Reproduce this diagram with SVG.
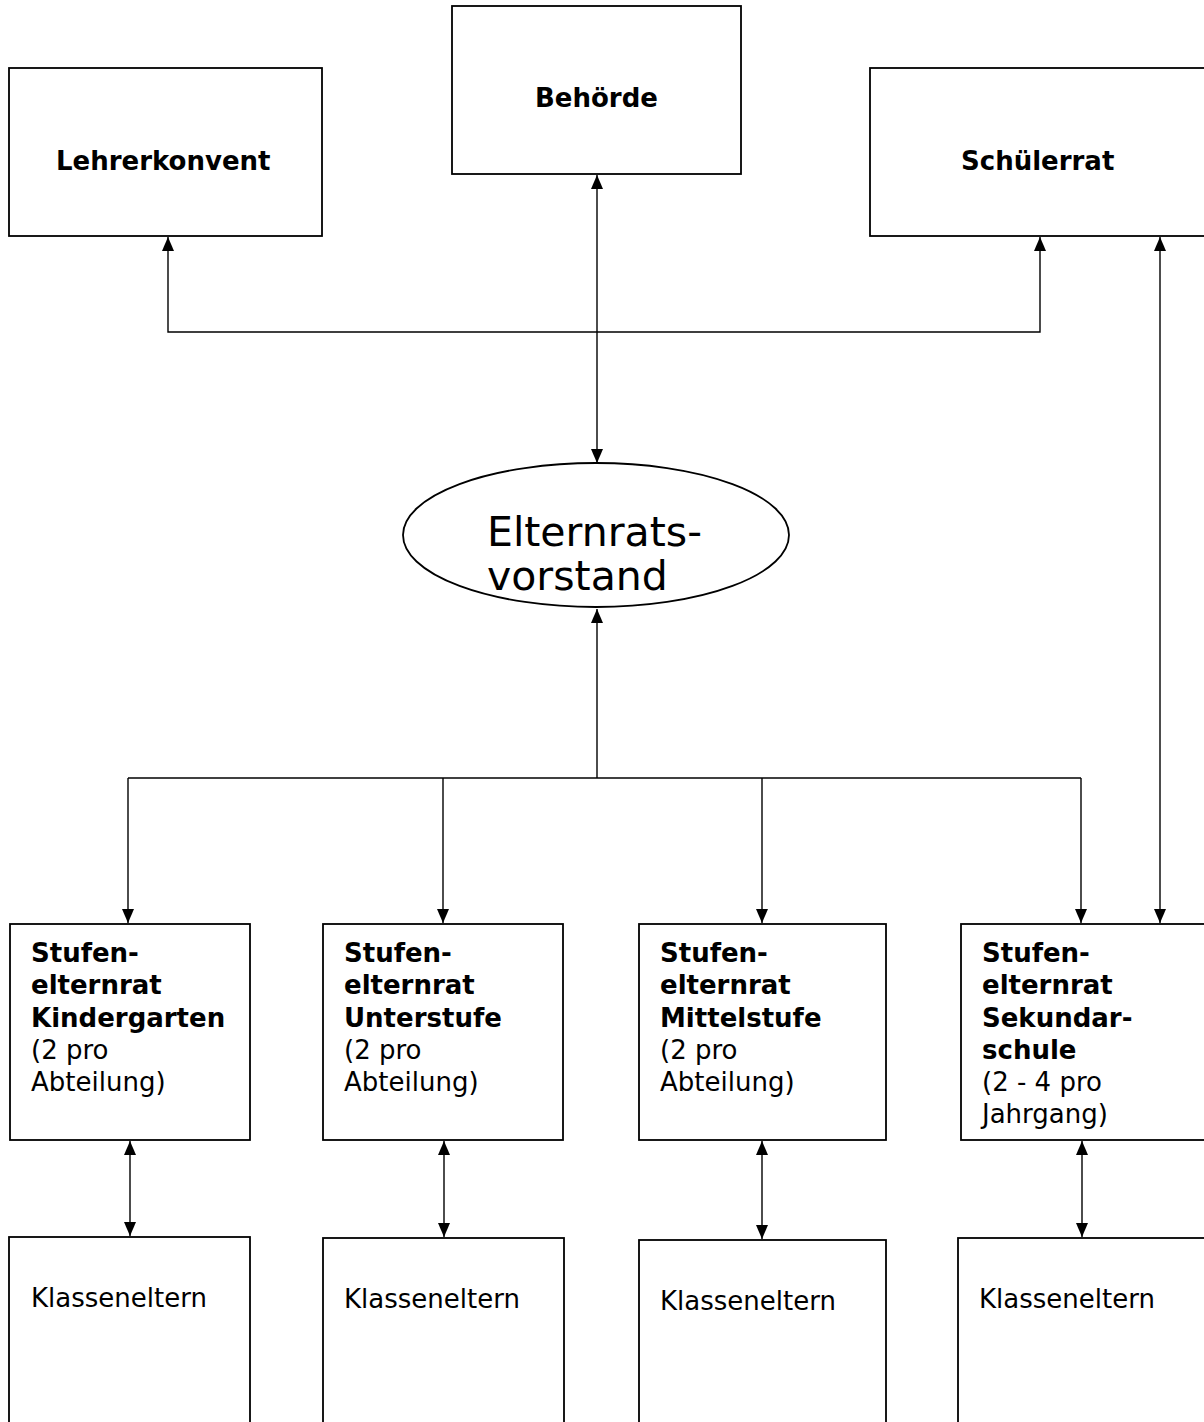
<svg xmlns="http://www.w3.org/2000/svg" width="1204" height="1422" viewBox="0 0 1204 1422">
<style>
.box{fill:#fff;stroke:#000;stroke-width:1.8}
.ln{fill:none;stroke:#000;stroke-width:1.4}
.b{font-family:"DejaVu Sans",Verdana,sans-serif;font-weight:bold;font-size:26px;fill:#000}
.r{font-family:"DejaVu Sans",Verdana,sans-serif;font-size:26px;fill:#000}
.big{font-family:"DejaVu Sans",Verdana,sans-serif;font-size:41px;fill:#000}
</style>
<defs>
<marker id="ah" markerUnits="userSpaceOnUse" markerWidth="16" markerHeight="12" refX="14" refY="6" orient="auto-start-reverse" viewBox="0 0 16 12">
<path d="M0,0 L14,6 L0,12 Z" fill="#000"/>
</marker>
</defs>
<rect width="1204" height="1422" fill="#fff"/>

<g id="lehrerkonvent"><rect class="box" x="9" y="68" width="313" height="168"/><text class="b" x="56" y="170">Lehrerkonvent</text></g>
<g id="behoerde"><rect class="box" x="452" y="6" width="289" height="168"/><text class="b" x="535" y="107">Behörde</text></g>
<g id="schuelerrat"><rect class="box" x="870" y="68" width="340" height="168"/><text class="b" x="961" y="170">Schülerrat</text></g>

<g id="elternratsvorstand"><ellipse class="box" cx="596" cy="535" rx="193" ry="72"/><text class="big" x="487" y="546">Elternrats-</text><text class="big" x="487" y="590">vorstand</text></g>

<g id="ser-kindergarten"><rect class="box" x="10" y="924" width="240" height="216"/>
<text class="b" x="31" y="962">Stufen-</text><text class="b" x="31" y="994">elternrat</text><text class="b" x="31" y="1027">Kindergarten</text>
<text class="r" x="31" y="1059">(2 pro</text><text class="r" x="31" y="1091">Abteilung)</text></g>
<g id="ser-unterstufe"><rect class="box" x="323" y="924" width="240" height="216"/>
<text class="b" x="344" y="962">Stufen-</text><text class="b" x="344" y="994">elternrat</text><text class="b" x="344" y="1027">Unterstufe</text>
<text class="r" x="344" y="1059">(2 pro</text><text class="r" x="344" y="1091">Abteilung)</text></g>
<g id="ser-mittelstufe"><rect class="box" x="639" y="924" width="247" height="216"/>
<text class="b" x="660" y="962">Stufen-</text><text class="b" x="660" y="994">elternrat</text><text class="b" x="660" y="1027">Mittelstufe</text>
<text class="r" x="660" y="1059">(2 pro</text><text class="r" x="660" y="1091">Abteilung)</text></g>
<g id="ser-sekundarschule"><rect class="box" x="961" y="924" width="250" height="216"/>
<text class="b" x="982" y="962">Stufen-</text><text class="b" x="982" y="994">elternrat</text><text class="b" x="982" y="1027">Sekundar-</text><text class="b" x="982" y="1059">schule</text>
<text class="r" x="982" y="1091">(2 - 4 pro</text><text class="r" x="982" y="1123">Jahrgang)</text></g>

<g id="klasseneltern-1"><rect class="box" x="9" y="1237" width="241" height="200"/><text class="r" x="31" y="1307">Klasseneltern</text></g>
<g id="klasseneltern-2"><rect class="box" x="323" y="1238" width="241" height="200"/><text class="r" x="344" y="1308">Klasseneltern</text></g>
<g id="klasseneltern-3"><rect class="box" x="639" y="1240" width="247" height="200"/><text class="r" x="660" y="1310">Klasseneltern</text></g>
<g id="klasseneltern-4"><rect class="box" x="958" y="1238" width="252" height="200"/><text class="r" x="979" y="1308">Klasseneltern</text></g>

<g id="connectors">
<path class="ln" d="M597,175 V463" marker-start="url(#ah)" marker-end="url(#ah)"/>
<path class="ln" d="M168,237 V332 H1040 V237" marker-start="url(#ah)" marker-end="url(#ah)"/>
<path class="ln" d="M1160,237 V923" marker-start="url(#ah)" marker-end="url(#ah)"/>
<path class="ln" d="M597,778 V609" marker-end="url(#ah)"/>
<path class="ln" d="M128,778 H1081"/>
<path class="ln" d="M128,778 V923" marker-end="url(#ah)"/>
<path class="ln" d="M443,778 V923" marker-end="url(#ah)"/>
<path class="ln" d="M762,778 V923" marker-end="url(#ah)"/>
<path class="ln" d="M1081,778 V923" marker-end="url(#ah)"/>
<path class="ln" d="M130,1141 V1236" marker-start="url(#ah)" marker-end="url(#ah)"/>
<path class="ln" d="M444,1141 V1237" marker-start="url(#ah)" marker-end="url(#ah)"/>
<path class="ln" d="M762,1141 V1239" marker-start="url(#ah)" marker-end="url(#ah)"/>
<path class="ln" d="M1082,1141 V1237" marker-start="url(#ah)" marker-end="url(#ah)"/>
</g>
</svg>
